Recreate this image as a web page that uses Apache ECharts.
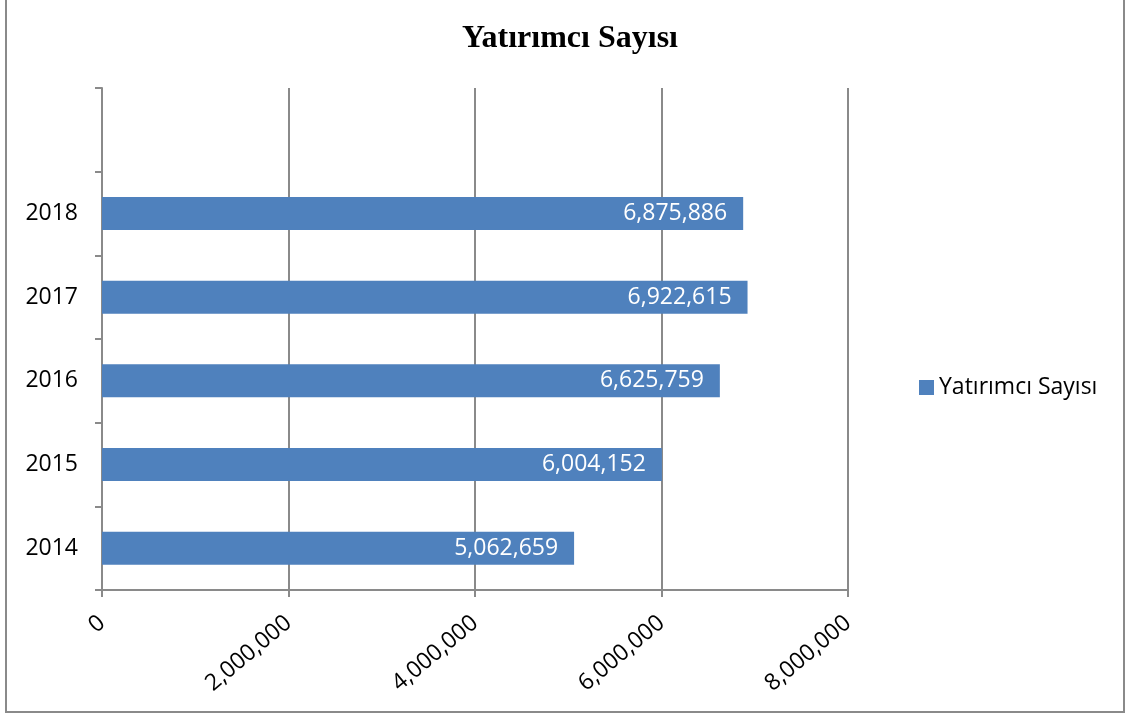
<!DOCTYPE html>
<html>
<head>
<meta charset="utf-8">
<script src="https://cdn.jsdelivr.net/npm/echarts@6/dist/echarts.min.js"></script>
<style>
  html, body { margin: 0; padding: 0; background: #fff; }
  #chart { width: 1128px; height: 717px; }
</style>
</head>
<body>
<div id="chart"></div>
<script>
// yil kategorileri (ustteki bos bant referanstaki gibi)
const years = ['2014', '2015', '2016', '2017', '2018', '']
const investors = [5062659, 6004152, 6625759, 6922615, 6875886]
const seriesName = 'Yatırımcı Sayısı'
const xMin = 0
const xMax = 8000000
const xStep = 2000000

const fmt = v => String(v).replace(/\B(?=(\d{3})+(?!\d))/g, ',')

const chart = echarts.init(document.getElementById('chart'))
const gray = '#8a8a8a'
const font = '"Open Sans", sans-serif'

const option = {
    backgroundColor: '#fff',
    animation: false,
    title: {
        text: seriesName,
        left: 565,
        textAlign: 'center',
        top: 18,
        textStyle: {
            fontFamily: '"Liberation Serif", "Times New Roman", serif',
            fontWeight: 'bold',
            fontSize: 32,
            color: '#000'
        }
    },
    legend: {
        data: [seriesName],
        left: 914,
        top: 371,
        icon: 'rect',
        itemWidth: 15,
        itemHeight: 15,
        itemGap: 6,
        textStyle: {
            fontFamily: font,
            fontSize: 23,
            color: '#000'
        }
    },
    grid: {
        left: 102,
        top: 88,
        width: 746,
        height: 502,
        containLabel: false
    },
    xAxis: {
        type: 'value',
        min: xMin,
        max: xMax,
        interval: xStep,
        axisLine: { show: true, lineStyle: { color: gray, width: 2 } },
        axisTick: { show: true, length: 7, lineStyle: { color: gray, width: 2 } },
        splitLine: { show: true, lineStyle: { color: gray, width: 2 } },
        axisLabel: {
            rotate: 40,
            margin: 30,
            color: '#000',
            fontFamily: font,
            fontSize: 23,
            formatter: fmt
        }
    },
    yAxis: {
        type: 'category',
        data: years,
        axisLine: { show: true, lineStyle: { color: gray, width: 2 } },
        axisTick: { show: true, length: 7, lineStyle: { color: gray, width: 2 } },
        axisLabel: {
            margin: 24,
            color: '#000',
            fontFamily: font,
            fontSize: 23
        }
    },
    series: [{
        name: seriesName,
        type: 'bar',
        data: investors,
        barWidth: 33,
        itemStyle: { color: '#4f81bd' },
        label: {
            show: true,
            position: 'insideRight',
            distance: 16,
            color: '#fff',
            fontFamily: font,
            fontSize: 23,
            formatter: p => fmt(p.value)
        }
    }],
    graphic: [{
        type: 'rect',
        shape: { x: 6, y: -10, width: 1118, height: 722 },
        style: { fill: 'none', stroke: '#8a8a8a', lineWidth: 2 },
        silent: true
    }]
}

chart.setOption(option)
</script>
</body>
</html>
